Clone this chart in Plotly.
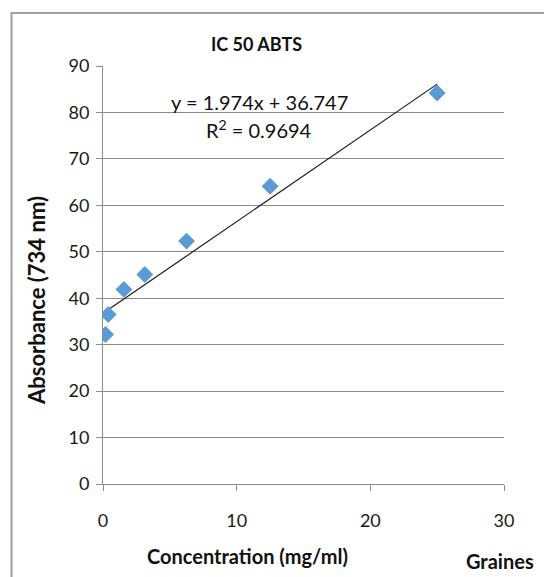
import numpy as np
import plotly.graph_objects as go

# Concentrations (mg/ml) and measured absorbance for the seed extract
concentration = [0.195, 0.39, 1.5625, 3.125, 6.25, 12.5, 25]
absorbance = [32.2, 36.5, 41.9, 45.1, 52.3, 64.1, 84.2]

# Linear trendline reported on the chart
slope = 1.974
intercept = 36.747
r_squared = 0.9694

x_ticks = [0, 10, 20, 30]
y_ticks = [0, 10, 20, 30, 40, 50, 60, 70, 80, 90]

FONT = "Lato"
GRID = "#8c8c8c"
TEXT = "#1a1a1a"

fit_x = np.array([min(concentration), max(concentration)])
fit_y = slope * fit_x + intercept

fig = go.Figure()
fig.add_trace(go.Scatter(
    x=fit_x, y=fit_y, mode="lines",
    line=dict(color="#1a1a1a", width=1.2),
    showlegend=False, hoverinfo="skip",
))
fig.add_trace(go.Scatter(
    x=concentration, y=absorbance, mode="markers",
    marker=dict(symbol="diamond", size=13, color="#5b9bd5", line=dict(width=0)),
    showlegend=False,
))

PX_L, PX_R, PX_T, PX_B = 103, 504, 66, 484


def px(x):
    return (x - PX_L) / (PX_R - PX_L)


def py(y):
    return (PX_B - y) / (PX_B - PX_T)


fig.update_layout(
    width=544, height=577,
    margin=dict(l=PX_L, r=544 - PX_R, t=PX_T, b=577 - PX_B),
    paper_bgcolor="white", plot_bgcolor="white",
    font=dict(family=FONT, size=18, color=TEXT),
    xaxis=dict(
        range=[0, 30], tickvals=x_ticks, showgrid=False,
        showline=True, linecolor=GRID, linewidth=1,
        ticks="outside", ticklen=6, tickcolor=GRID,
        ticklabelstandoff=14, zeroline=False,
        tickfont=dict(family=FONT, size=18, color=TEXT),
    ),
    yaxis=dict(
        range=[0, 90], tickvals=y_ticks, showgrid=True,
        gridcolor=GRID, gridwidth=1,
        showline=True, linecolor=GRID, linewidth=1,
        ticks="outside", ticklen=6, tickcolor=GRID,
        ticklabelstandoff=3, zeroline=False,
        tickfont=dict(family=FONT, size=18, color=TEXT),
    ),
    shapes=[
        # outer chart frame
        dict(type="rect", xref="paper", yref="paper",
             x0=px(11.5), x1=px(600), y0=py(640), y1=py(13),
             line=dict(color="#a0a0a0", width=2), fillcolor="rgba(0,0,0,0)",
             layer="below"),
    ],
    annotations=[
        dict(text="<b>IC 50 ABTS</b>", xref="paper", yref="paper",
             x=px(256), y=py(44), showarrow=False,
             font=dict(family=FONT, size=18, color="#111"),
             xanchor="center", yanchor="middle"),
        dict(text=f"y = {slope}x + {intercept}", xref="x", yref="y",
             x=11.7, y=82.3, showarrow=False,
             font=dict(family=FONT, size=20, color="#111"),
             xanchor="center", yanchor="middle"),
        dict(text=f"R<sup>2</sup> = {r_squared}", xref="x", yref="y",
             x=11.7, y=76.4, showarrow=False,
             font=dict(family=FONT, size=20, color="#111"),
             xanchor="center", yanchor="middle"),
        dict(text="<b>Absorbance (734 nm)</b>", xref="paper", yref="paper",
             x=px(36), y=py(301), showarrow=False,
             textangle=-90,
             font=dict(family=FONT, size=22, color="#111"),
             xanchor="center", yanchor="middle"),
        dict(text="<b>Concentration (mg/ml)</b>", xref="paper", yref="paper",
             x=px(247), y=py(556), showarrow=False,
             font=dict(family=FONT, size=20, color="#111"),
             xanchor="center", yanchor="middle"),
        dict(text="<b>Graines</b>", xref="paper", yref="paper",
             x=px(500), y=py(561), showarrow=False,
             font=dict(family=FONT, size=20, color="#111"),
             xanchor="center", yanchor="middle"),
    ],
)

fig.write_html("out.html")
